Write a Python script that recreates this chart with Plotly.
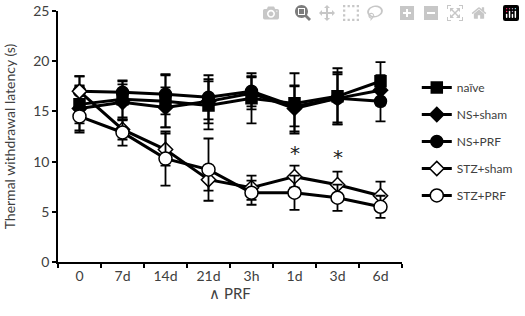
import plotly.graph_objects as go

categories = ["0", "7d", "14d", "21d", "3h", "1d", "3d", "6d"]

naive = [15.7, 16.2, 16.0, 15.6, 16.3, 15.8, 16.5, 18.0]
naive_err = [1.9, 1.8, 2.6, 2.4, 2.5, 3.0, 2.8, 1.9]
ns_sham = [15.3, 15.9, 15.4, 16.0, 16.8, 15.3, 16.3, 17.1]
ns_sham_err = [2.2, 1.8, 2.0, 2.2, 1.6, 2.3, 2.6, 1.5]
ns_prf = [17.0, 16.9, 16.7, 16.4, 17.0, 15.5, 16.3, 16.0]
ns_prf_err = [1.5, 1.2, 2.0, 2.2, 1.5, 2.0, 2.4, 2.0]
stz_sham = [17.0, 13.2, 11.2, 8.2, 7.4, 8.5, 7.7, 6.6]
stz_sham_err = [1.5, 1.0, 1.6, 1.1, 1.2, 1.1, 1.3, 1.4]
stz_prf = [14.5, 12.9, 10.3, 9.2, 6.9, 6.9, 6.4, 5.5]
stz_prf_err = [1.6, 1.3, 2.7, 3.1, 1.2, 1.7, 1.3, 1.1]

star_cats = ["1d", "3d"]
star_y = [10.9, 10.5]

series = [
    ("naïve", naive, naive_err, "square", "black", 11),
    ("NS+sham", ns_sham, ns_sham_err, "diamond", "black", 11),
    ("NS+PRF", ns_prf, ns_prf_err, "circle", "black", 12),
    ("STZ+sham", stz_sham, stz_sham_err, "diamond", "white", 11),
    ("STZ+PRF", stz_prf, stz_prf_err, "circle", "white", 13),
]

fig = go.Figure()
for i, (name, vals, errs, sym, fill, size) in enumerate(series):
    fig.add_trace(go.Scatter(
        x=categories, y=vals, name=name, mode="lines+markers",
        legendgroup=f"g{i}",
        line=dict(color="black", width=3),
        marker=dict(symbol=sym, color=fill, size=size,
                    line=dict(color="black", width=1.5)),
        error_y=dict(type="data", array=errs, color="black", thickness=1.8, width=5),
    ))

for c, yv in zip(star_cats, star_y):
    fig.add_annotation(x=c, y=yv, text="*", showarrow=False,
                       font=dict(size=20, color="#222", family="DejaVu Sans"))

fig.update_layout(
    width=525, height=316,
    margin=dict(l=58, r=123, t=11, b=54, autoexpand=False),
    paper_bgcolor="white", plot_bgcolor="white",
    font=dict(family="Lato", size=14, color="#404040"),
    showlegend=True,
    legend=dict(x=1.043, y=0.753, xanchor="left", yanchor="top",
                tracegroupgap=8, itemwidth=30, font=dict(size=12, color="#404040"),
                bgcolor="rgba(0,0,0,0)"),
)
fig.update_xaxes(
    type="category", categoryorder="array", categoryarray=categories,
    showline=True, linecolor="black", linewidth=1.5,
    ticks="outside", ticklen=4, tickcolor="black", tickwidth=1.5,
    tickson="boundaries", showgrid=False, zeroline=False, automargin=False,
    title=dict(text="∧ PRF", standoff=6, font=dict(size=15)),
    range=[-0.5, 7.5],
)
fig.update_yaxes(
    range=[0, 25], dtick=5, showline=True, linecolor="black", linewidth=1.5,
    ticks="outside", ticklen=4, tickcolor="black", tickwidth=1.5,
    showgrid=False, zeroline=False, automargin=False,
    title=dict(text="Thermal withdrawal latency (s)", standoff=14, font=dict(size=14)),
)

fig.write_html("out.html", post_script="document.body.style.margin='0';")
